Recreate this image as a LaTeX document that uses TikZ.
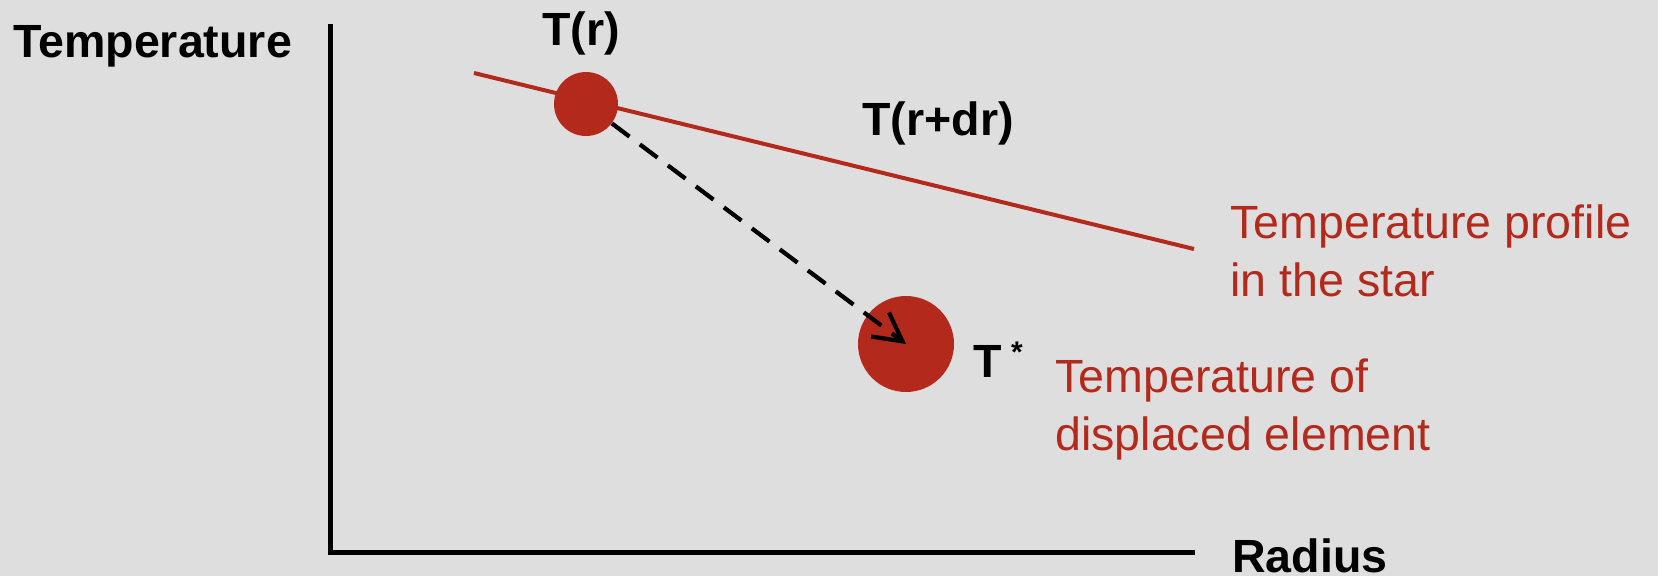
\documentclass[tikz,border=0pt]{standalone}
\usepackage{xcolor}
\usepackage{fontspec}
\setmainfont{Liberation Sans}
\usetikzlibrary{
  arrows.meta,
  positioning
}
\definecolor{starred}{RGB}{179,41,27}
\definecolor{bggray}{RGB}{222,222,222}

\begin{document}
\begin{tikzpicture}[
    x=0.02cm,
    y=-0.02cm,
    >={Straight Barb[length=0.56cm,width=0.6cm]},
    axis/.style={line width=0.1cm},
    lbl/.style={font=\fontsize{26.5}{33}\selectfont\bfseries, inner sep=0pt},
    note/.style={font=\fontsize{26.5}{33}\selectfont, text=starred, align=left, inner sep=0pt},
    blob/.style={circle, fill=starred, inner sep=0pt}
    ]
    
    \fill[bggray] (0,0) rectangle (1658,576);
    \useasboundingbox (0,0) rectangle (1658,576);
    
    \coordinate (o) at (330,552);
    \coordinate (ytop) at (330,24);
    \coordinate (xend) at (1195,552);
    \draw[axis] (ytop) -- (o) -- (xend);
    
    \node[lbl, anchor=base west] (ylab) at (13,57) {Temperature};
    \node[lbl, anchor=base west] (xlab) at (1232,572) {Radius};
    
    \coordinate (pa) at (474,73);
    \coordinate (pb) at (1194,249);
    \draw[starred, line width=0.08cm] (pa) -- (pb);
    
    \node[blob, minimum size=1.28cm] (c1) at (586,104) {};
    \node[blob, minimum size=1.92cm] (c2) at (906,344) {};
    
    \draw[->, dash pattern=on 0.44cm off 0.26cm, line width=0.085cm]
    (c1) -- (c2.center);
    
    \node[lbl, anchor=base] (tr) at (581,45) {T(r)};
    \node[lbl, anchor=base west] (trdr) at (862,135) {T(r+dr)};
    \node[lbl, anchor=base west] (tstar) at (973,377)
    {T\hspace{0.2em}\raisebox{0.32em}{\fontsize{17}{17}\selectfont *}};
    
    \node[note, anchor=base west] (prof) at (1230,296)
    {Temperature profile\\in the star};
    \node[note, anchor=base west] (disp) at (1055,450)
    {Temperature of\\displaced element};
    
\end{tikzpicture}
\end{document}
